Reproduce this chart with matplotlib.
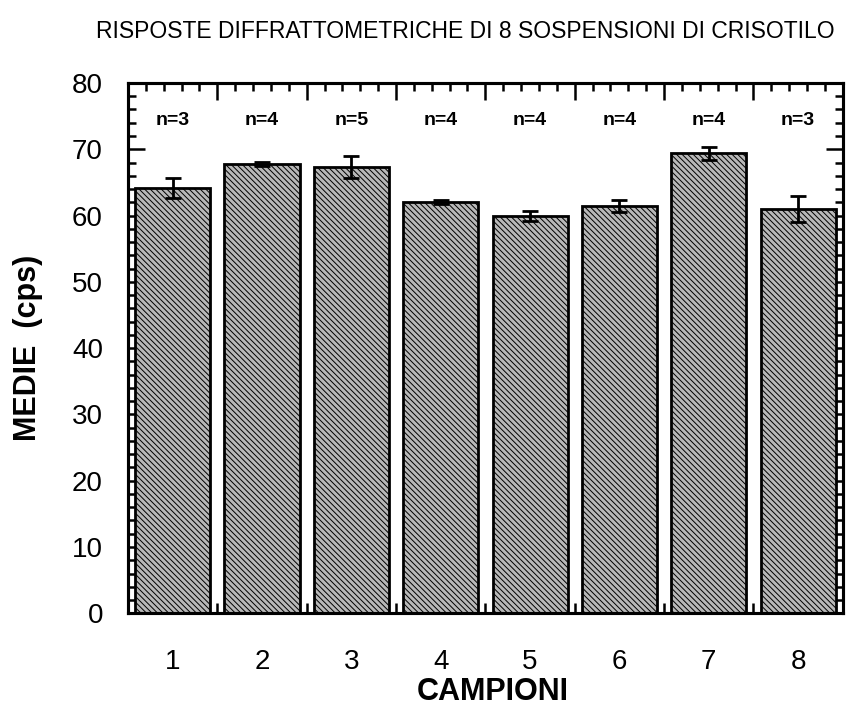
import numpy as np
import matplotlib
matplotlib.use("Agg")
import matplotlib.pyplot as plt
from matplotlib.ticker import FixedLocator, MultipleLocator

SAMPLES  = [1, 2, 3, 4, 5, 6, 7, 8]
MEANS    = [64.2, 67.8, 67.3, 62.0, 59.9, 61.4, 69.4, 61.0]
ERRS     = [1.5, 0.3, 1.7, 0.3, 0.75, 0.9, 1.0, 2.0]
N_LABELS = ["n=3", "n=4", "n=5", "n=4", "n=4", "n=4", "n=4", "n=3"]
N_Y      = 74.4

TITLE  = "RISPOSTE DIFFRATTOMETRICHE DI 8 SOSPENSIONI DI CRISOTILO"
YLABEL = "MEDIE  (cps)"
XLABEL = "CAMPIONI"

plt.rcParams['font.family'] = ['Liberation Sans', 'DejaVu Sans']
plt.rcParams['hatch.color'] = '#666666'
plt.rcParams['hatch.linewidth'] = 0.7

fig = plt.figure(figsize=(8.53, 7.09), dpi=100)
ax = fig.add_axes([0.150, 0.135, 0.838, 0.748])

ax.bar(SAMPLES, MEANS, width=0.84, facecolor='#b8b8b8', edgecolor='black',
       linewidth=2.0, hatch='\\\\\\\\\\\\', zorder=2)
ax.errorbar(SAMPLES, MEANS, yerr=ERRS, fmt='none', ecolor='black',
            elinewidth=2, capsize=6, capthick=2, zorder=3)

for x, lab in zip(SAMPLES, N_LABELS):
    ax.text(x, N_Y, lab, ha='center', va='center', fontsize=14,
            fontweight='bold')

ax.set_xlim(0.5, 8.5)
ax.set_ylim(0, 80)

# y axis: ticks inside on both sides
ax.yaxis.set_major_locator(MultipleLocator(10))
ax.yaxis.set_minor_locator(MultipleLocator(2))
ax.tick_params(axis='y', which='both', direction='in', left=True, right=True,
               width=1.8)
ax.tick_params(axis='y', which='major', length=12, labelsize=20, pad=18)
ax.tick_params(axis='y', which='minor', length=6)

# bottom axis: labels at bar centres, short ticks between bars
ax.xaxis.set_major_locator(FixedLocator(SAMPLES))
ax.xaxis.set_minor_locator(FixedLocator([s + 0.5 for s in SAMPLES[:-1]]))
ax.tick_params(axis='x', which='major', length=0, labelsize=20, pad=26)
ax.tick_params(axis='x', which='minor', direction='in', length=7, width=1.8)

# top axis: long ticks between bars, fine minor ticks
top = ax.twiny()
top.set_xlim(ax.get_xlim())
top.xaxis.set_major_locator(FixedLocator([s + 0.5 for s in SAMPLES[:-1]]))
top.xaxis.set_minor_locator(FixedLocator(np.arange(0.7, 8.5, 0.2)))
top.tick_params(axis='x', which='both', direction='in', top=True,
                bottom=False, labeltop=False, width=1.8)
top.tick_params(axis='x', which='major', length=12)
top.tick_params(axis='x', which='minor', length=6)

for a in (ax, top):
    for sp in a.spines.values():
        sp.set_linewidth(2.2)

ax.set_ylabel(YLABEL, fontsize=22, fontweight='bold', va='center')
ax.yaxis.set_label_coords(-0.140, 0.5)
ax.set_xlabel(XLABEL, fontsize=22, fontweight='bold', va='center')
ax.xaxis.set_label_coords(0.51, -0.149)

fig.text(0.545, 0.955, TITLE, ha='center', va='center', fontsize=16.5,
         family=['Liberation Sans Narrow', 'Liberation Sans', 'DejaVu Sans'])

fig.savefig("out.png", dpi=100)
